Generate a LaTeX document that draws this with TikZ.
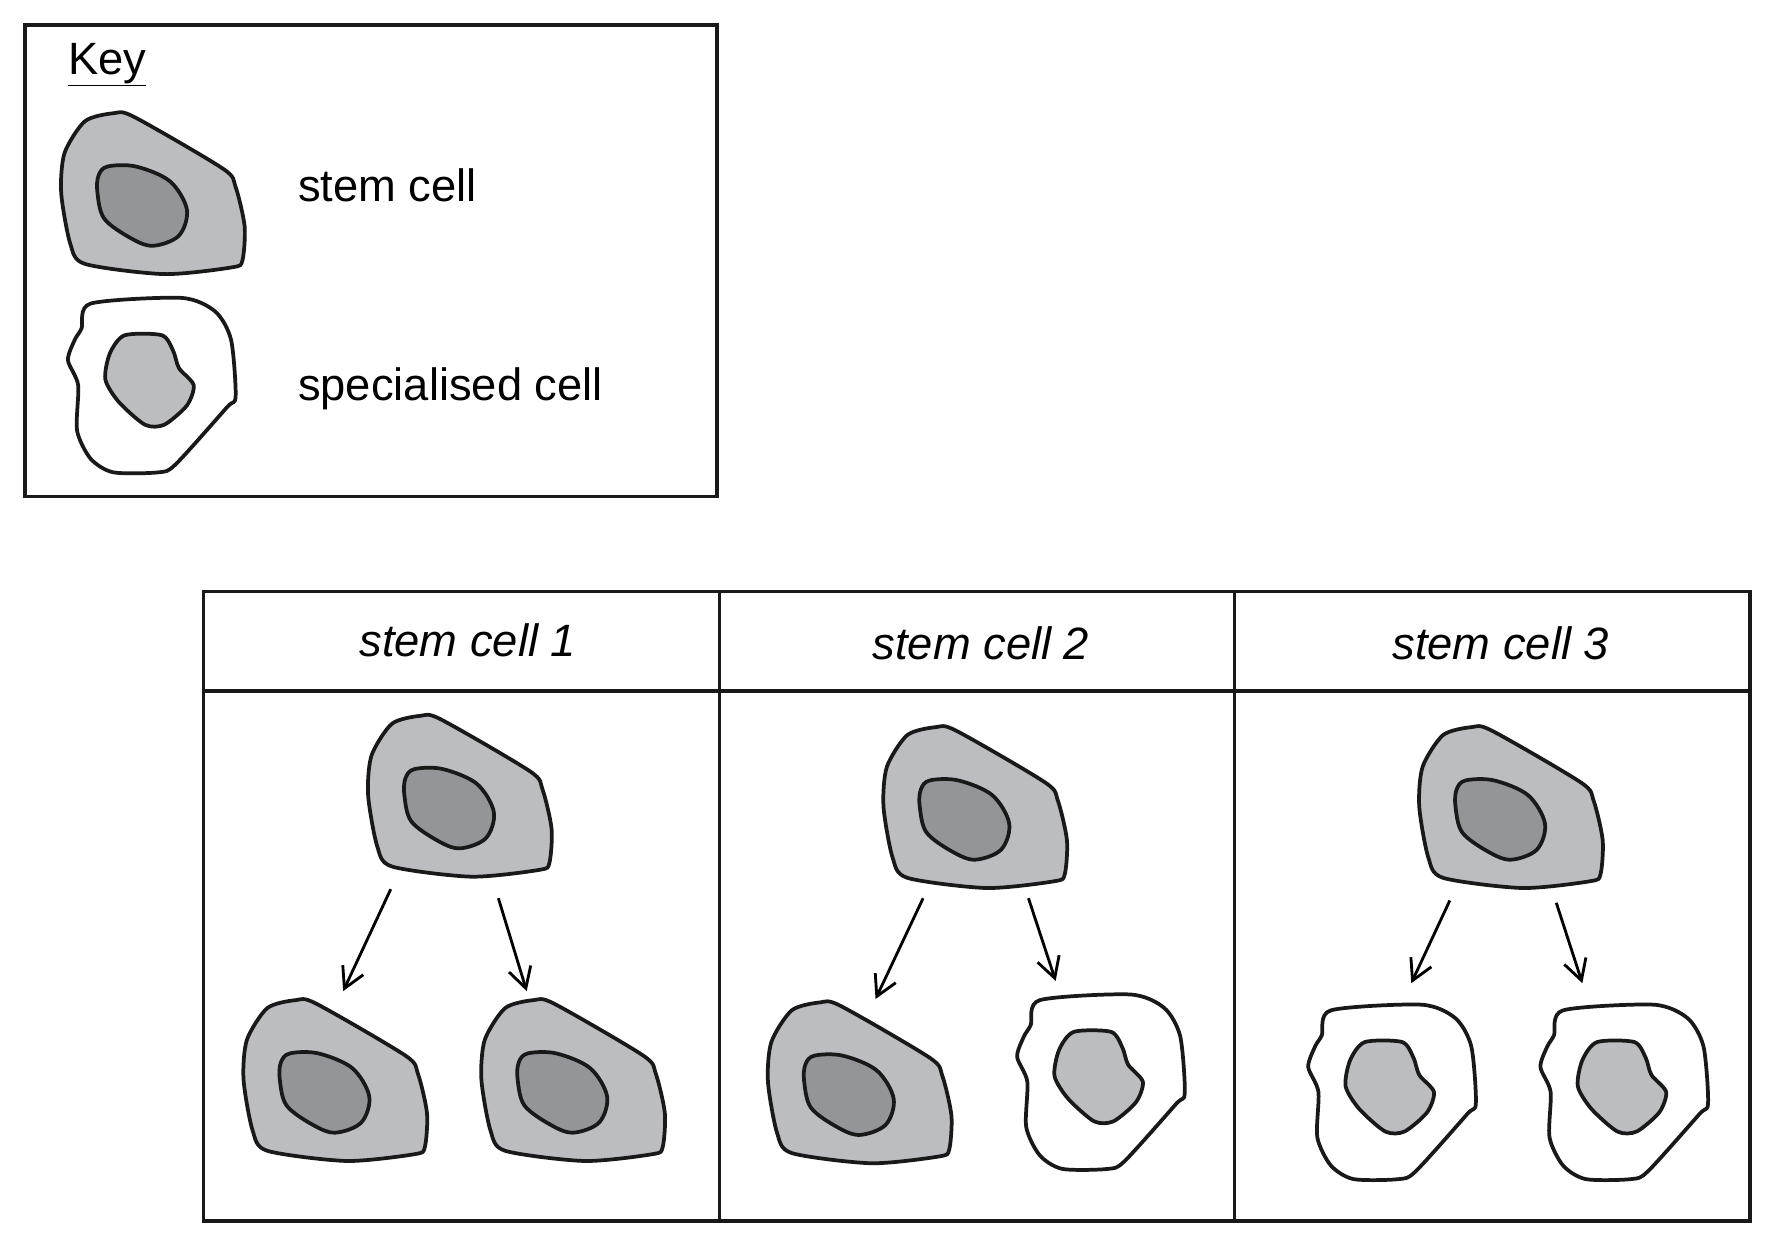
\documentclass[tikz,border=0pt]{standalone}
\usepackage{fontspec}
\setmainfont{Liberation Sans}
\usetikzlibrary{arrows.meta}
\definecolor{cytogrey}{HTML}{BCBDC0}
\definecolor{nucgrey}{HTML}{939598}

\begin{document}
\begin{tikzpicture}[x=1pt, y=-1pt,
    wall/.style={line width=3.3pt, line join=round, draw=black!90},
    frame/.style={line width=2.8pt, draw=black!90},
    label/.style={font=\fontsize{40}{47}\selectfont, anchor=west, inner sep=0pt},
    head/.style={font=\fontsize{40}{47}\selectfont\itshape, inner sep=0pt},
    split/.style={line width=2.5pt, -{Straight Barb[length=18pt, width=20pt]}},
    stem/.pic={
        \begin{scope}[shift={(-135,-170)}]
        \draw[wall, fill=cytogrey] plot[smooth cycle, tension=0.45] coordinates
            {(100,100) (118,103) (197,149) (208,165) (216,200) (214,230) (205,236)
             (145,242) (75,233) (62,215) (54,170) (57,135) (75,107)};
        \draw[wall, fill=nucgrey] plot[smooth cycle, tension=0.55] coordinates
            {(95,147) (120,147) (150,160) (165,185) (158,208) (135,217) (115,210)
             (92,193) (86,170) (87,155)};
        \end{scope}
    },
    special/.pic={
        \begin{scope}[shift={(-135,-340)}]
        \draw[wall, fill=white] plot[smooth cycle, tension=0.45] coordinates
            {(80,268) (160,263) (190,275) (204,300) (208,350) (200,360) (155,410)
             (140,417) (100,417) (80,405) (68,380) (69,340) (60,318) (66,300) (72,290)};
        \draw[wall, fill=cytogrey] plot[smooth cycle, tension=0.45] coordinates
            {(110,296) (143,296) (153,310) (158,325) (171,340) (165,358) (145,375)
             (128,375) (105,355) (93,335) (97,312)};
        \end{scope}
    }]
    \useasboundingbox (0,0) rectangle (1568,1101);

    % key
    \draw[frame] (22,22) rectangle (633,438);
    \node[label] (keyhead) at (60,57) {\underline{Key}};
    \pic at (135,170) {stem};
    \pic at (135,340) {special};
    \node[label] (keystem) at (263,164) {stem cell};
    \node[label] (keyspec) at (263,343) {specialised cell};

    % table
    \draw[frame] (180,522) rectangle (1545,1078);
    \draw[frame] (180,610) -- (1545,610);
    \draw[frame] (635,522) -- (635,1078);
    \draw[frame] (1090,522) -- (1090,1078);
    \node[head] (h1) at (413,565) {stem cell 1};
    \node[head] (h2) at (866,568) {stem cell 2};
    \node[head] (h3) at (1325,568) {stem cell 3};

    % cells
    \pic at (406,702) {stem};
    \pic at (296,953) {stem};
    \pic at (506,953) {stem};
    \pic at (861,712) {stem};
    \pic at (759,955) {stem};
    \pic at (973,955) {special};
    \pic at (1334,712) {stem};
    \pic at (1230,964) {special};
    \pic at (1435,964) {special};

    % division arrows
    \coordinate (a1) at (345,785);  \coordinate (b1) at (303,875);
    \coordinate (c1) at (440,793);  \coordinate (d1) at (465,875);
    \coordinate (a2) at (815,793);  \coordinate (b2) at (773,882);
    \coordinate (c2) at (908,793);  \coordinate (d2) at (932,866);
    \coordinate (a3) at (1280,795); \coordinate (b3) at (1246,868);
    \coordinate (c3) at (1374,797); \coordinate (d3) at (1397,868);
    \foreach \i in {1,2,3} {
        \draw[split] (a\i) -- (b\i);
        \draw[split] (c\i) -- (d\i);
    }
\end{tikzpicture}
\end{document}
